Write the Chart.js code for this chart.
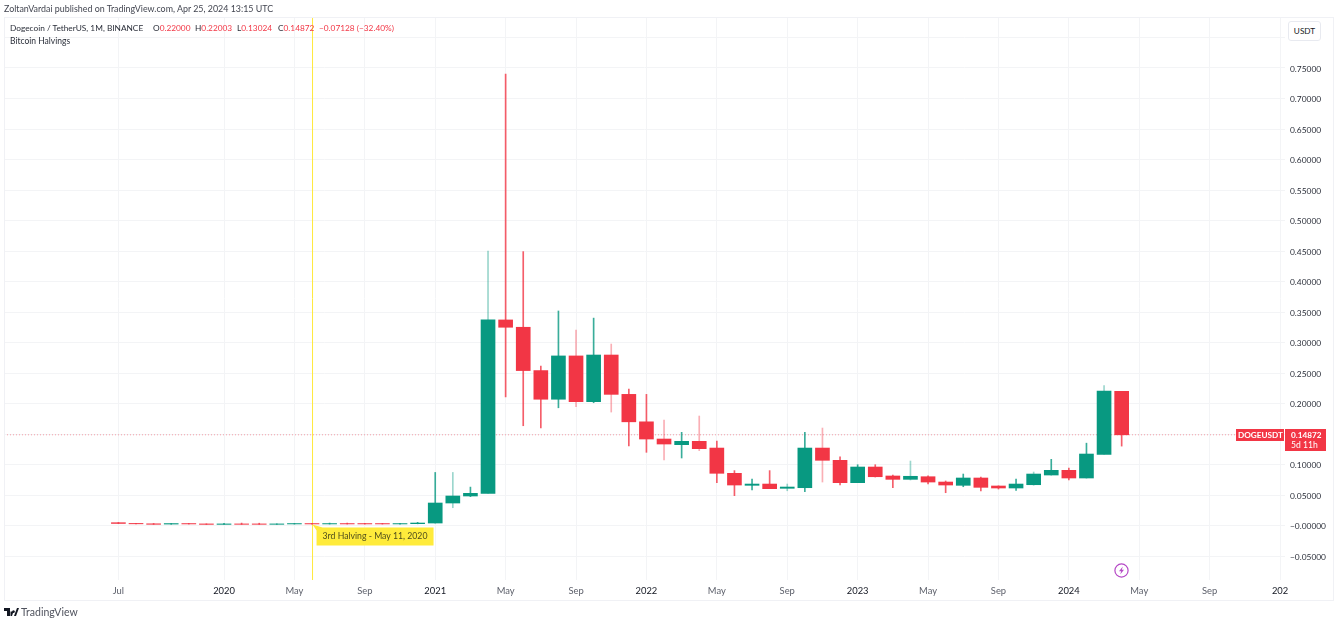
<!DOCTYPE html>
<html>
<head>
<meta charset="utf-8">
<title>DOGEUSDT</title>
<script src="https://cdn.jsdelivr.net/npm/chart.js@4"></script>
<style>
html, body { margin: 0; padding: 0; background: #fff; }
body { width: 1339px; height: 625px; position: relative; overflow: hidden; font-family: Lato, sans-serif; color: #131722; }
canvas { position: absolute; left: 0; top: 0; }
.txt { position: absolute; white-space: nowrap; line-height: 12px; }
.red { color: #f23645; }
#published { left: 4px; top: 3px; font-size: 8.9px; color: #434651; }
#legend { left: 10px; top: 22px; font-size: 8.3px; color: #2a2e39; }
#legend span { position: absolute; top: 0; }
#legend i { font-style: normal; color: #f23645; }
#study { left: 10px; top: 35px; font-size: 8.5px; color: #2a2e39; }
#unit { left: 1288px; top: 21px; width: 31px; height: 18px; border: 1px solid #e8eaf0; border-radius: 3px; font-size: 8.2px; line-height: 18px; text-align: center; background: #fff; }
#brand { left: 21px; top: 606px; font-size: 10.5px; color: #50535e; }
#logo { position: absolute; left: 4px; top: 608px; }
#bolt { position: absolute; left: 1114px; top: 563px; }
</style>
</head>
<body>
<canvas id="chart" width="1339" height="625"></canvas>
<div class="txt" id="published">ZoltanVardai published on TradingView.com, Apr 25, 2024 13:15 UTC</div>
<div class="txt" id="legend">Dogecoin / TetherUS, 1M, BINANCE<span style="left:143px">O<i>0.22000</i></span><span style="left:185px">H<i>0.22003</i></span><span style="left:227px">L<i>0.13024</i></span><span style="left:268px">C<i>0.14872</i></span><span class="red" style="left:309px">−0.07128 (−32.40%)</span></div>
<div class="txt" id="study">Bitcoin Halvings</div>
<div class="txt" id="unit">USDT</div>
<svg id="logo" width="15" height="9" viewBox="0 0 15 9"><path d="M0 0h6v8H3V3H0z M9.5 2.2a1.4 1.4 0 1 1-.01 0z M10 8l3-8h2l-3 8z M6.5 3.5h3L8 8H6.5z" fill="#131722"/></svg>
<div class="txt" id="brand">TradingView</div>
<svg id="bolt" width="15" height="15" viewBox="0 0 15 15"><circle cx="7.5" cy="7.5" r="6.6" fill="none" stroke="#b548c6" stroke-width="1.2"/><path d="M8.8 3.4 5 8.2h2.2L6.2 11.6 10 6.8H7.8z" fill="#b548c6"/></svg>
<script>
// monthly candles, Jul 2019 to Apr 2024
const months = ['2019-07','2019-08','2019-09','2019-10','2019-11','2019-12',
    '2020-01','2020-02','2020-03','2020-04','2020-05','2020-06','2020-07','2020-08','2020-09','2020-10','2020-11','2020-12',
    '2021-01','2021-02','2021-03','2021-04','2021-05','2021-06','2021-07','2021-08','2021-09','2021-10','2021-11','2021-12',
    '2022-01','2022-02','2022-03','2022-04','2022-05','2022-06','2022-07','2022-08','2022-09','2022-10','2022-11','2022-12',
    '2023-01','2023-02','2023-03','2023-04','2023-05','2023-06','2023-07','2023-08','2023-09','2023-10','2023-11','2023-12',
    '2024-01','2024-02','2024-03','2024-04'];
const opens = [0.0046,0.0034,0.0028,0.0024,0.0032,0.0026,
    0.0019,0.0026,0.0026,0.0020,0.0026,0.0032,0.0026,0.0032,0.0032,0.0032,0.0026,0.0030,
    0.0041,0.0369,0.0484,0.0528,0.3370,0.3250,0.2540,0.2070,0.2780,0.2030,0.2795,0.2150,
    0.1700,0.1418,0.1325,0.1380,0.1270,0.0856,0.0659,0.0680,0.0610,0.0620,0.1270,0.1069,
    0.0702,0.0959,0.0812,0.0757,0.0800,0.0713,0.0659,0.0779,0.0648,0.0615,0.0669,0.0828,
    0.0905,0.0779,0.1167,0.2200];
const highs = [0.0050,0.0037,0.0034,0.0034,0.0035,0.0028,
    0.0036,0.0040,0.0038,0.0028,0.0034,0.0036,0.0040,0.0040,0.0036,0.0035,0.0036,0.0052,
    0.0870,0.0870,0.0630,0.4500,0.7400,0.4490,0.2615,0.3517,0.3205,0.3400,0.2975,0.2238,
    0.2150,0.1730,0.1528,0.1795,0.1385,0.0900,0.0762,0.0900,0.0680,0.1528,0.1598,0.1128,
    0.0997,0.0997,0.0828,0.1057,0.0815,0.0730,0.0844,0.0795,0.0650,0.0762,0.0877,0.1085,
    0.0943,0.1350,0.2292,0.2200];
const lows = [0.0032,0.0026,0.0018,0.0020,0.0024,0.0017,
    0.0017,0.0018,0.0018,0.0018,0.0024,0.0024,0.0024,0.0024,0.0024,0.0024,0.0024,0.0028,
    0.0041,0.0292,0.0473,0.0528,0.2110,0.1636,0.1600,0.1930,0.1948,0.2013,0.1860,0.1303,
    0.1200,0.1074,0.1107,0.1227,0.0702,0.0489,0.0582,0.0604,0.0570,0.0555,0.0713,0.0664,
    0.0702,0.0795,0.0620,0.0746,0.0680,0.0538,0.0636,0.0566,0.0598,0.0577,0.0660,0.0828,
    0.0746,0.0779,0.1167,0.1302];
const closes = [0.0034,0.0028,0.0020,0.0032,0.0026,0.0019,
    0.0026,0.0020,0.0020,0.0026,0.0032,0.0026,0.0032,0.0026,0.0026,0.0026,0.0032,0.0041,
    0.0369,0.0484,0.0528,0.3370,0.3250,0.2540,0.2070,0.2780,0.2030,0.2795,0.2150,0.1700,
    0.1418,0.1336,0.1380,0.1260,0.0856,0.0664,0.0680,0.0604,0.0631,0.1270,0.1069,0.0702,
    0.0959,0.0800,0.0757,0.0807,0.0713,0.0664,0.0779,0.0626,0.0615,0.0680,0.0844,0.0905,
    0.0779,0.1172,0.2205,0.1487];

const xTickPositions = [0,6,10,14,18,22,26,30,34,38,42,46,50,54,58,62,66];
const xTickLabels = ['Jul','2020','May','Sep','2021','May','Sep','2022','May','Sep','2023','May','Sep','2024','May','Sep','202'];
const yTickValues = [-0.05,0,0.05,0.10,0.15,0.20,0.25,0.30,0.35,0.40,0.45,0.50,0.55,0.60,0.65,0.70,0.75,0.80];
const yTickLabels = ['−0.05000','−0.00000','0.05000','0.10000','0.15000','0.20000','0.25000','0.30000','0.35000','0.40000','0.45000','0.50000','0.55000','0.60000','0.65000','0.70000','0.75000',''];

const lastPrice = 0.14872;
const lastPriceText = '0.14872';
const countdownText = '5d 11h';
const symbolText = 'DOGEUSDT';
const halvingIndex = 11.03;
const halvingText = '3rd Halving - May 11, 2020';

const xMin = -6.5, xMax = 66.28;
const yMin = -0.0893, yMax = 0.8336;

const green = '#089981', red = '#f23645';
const candleColors = opens.map((o, i) => closes[i] >= o ? green : red);
// these wicks look washed out in the screenshot
const fadedWicks = [19,21,26,28,31,33,38,40,45,52,56];
const wickColors = opens.map((o, i) => {
    const alpha = fadedWicks.includes(i) ? 0.4 : 0.8;
    return closes[i] >= o ? `rgba(8,153,129,${alpha})` : `rgba(242,54,69,${alpha})`;
});

// price tag and halving note sit on top of the plot
const overlays = {
    id: 'overlays',
    afterDraw(chart) {
        const c = chart.ctx, y = chart.scales.y.getPixelForValue(lastPrice);
        const hx = chart.scales.x.getPixelForValue(halvingIndex);
        const hy = chart.scales.y.getPixelForValue(0);
        const a = chart.chartArea;
        c.save();

        // frame
        c.strokeStyle = '#f0f1f5';
        c.lineWidth = 1;
        c.strokeRect(4.5, 17.5, 1329, 583);

        // last price tag
        c.fillStyle = red;
        c.fillRect(a.right - 49, Math.round(y) - 6, 48, 12);
        c.fillRect(a.right, Math.round(y) - 6, 41, 22);
        c.fillStyle = '#fff';
        c.textBaseline = 'middle';
        c.textAlign = 'left';
        c.font = 'bold 8.2px Lato';
        c.fillText(symbolText, a.right - 47, Math.round(y));
        c.fillText(lastPriceText, a.right + 6, Math.round(y));
        c.font = '8.6px Lato';
        c.fillText(countdownText, a.right + 6, Math.round(y) + 10);

        // halving note
        c.fillStyle = '#ffeb3b';
        c.beginPath();
        c.moveTo(hx, hy - 1);
        c.lineTo(hx + 10, hy + 2);
        c.lineTo(hx + 121, hy + 2);
        c.lineTo(hx + 121, hy + 20);
        c.lineTo(hx + 4, hy + 20);
        c.lineTo(hx + 4, hy + 5);
        c.closePath();
        c.fill();
        c.fillStyle = '#4f4d1c';
        c.font = '8.7px Lato';
        c.fillText(halvingText, hx + 10, hy + 11);
        c.restore();
    }
};

new Chart(document.getElementById('chart'), {
    type: 'bar',
    data: {
        datasets: [
            {
                label: 'last price',
                type: 'line',
                data: [{ x: xMin, y: lastPrice }, { x: xMax - 2.8, y: lastPrice }],
                borderColor: 'rgba(242,54,69,0.45)',
                borderWidth: 1,
                borderDash: [1, 2],
                pointRadius: 0,
                order: 5
            },
            {
                label: 'halving',
                type: 'line',
                data: [{ x: halvingIndex, y: yMin }, { x: halvingIndex, y: yMax }],
                borderColor: '#ffe93b',
                borderWidth: 1,
                pointRadius: 0,
                order: 4
            },
            {
                label: 'wicks',
                data: months.map((m, i) => ({ x: i, y: [lows[i], highs[i]] })),
                backgroundColor: wickColors,
                barThickness: 1,
                grouped: false,
                order: 2
            },
            {
                label: 'bodies',
                data: months.map((m, i) => ({ x: i, y: [opens[i], closes[i]] })),
                backgroundColor: candleColors,
                barThickness: 14,
                grouped: false,
                order: 1
            }
        ]
    },
    options: {
        responsive: false,
        animation: false,
        layout: { padding: { left: 4, top: 17, right: 6, bottom: 25 } },
        plugins: { legend: { display: false }, tooltip: { enabled: false } },
        scales: {
            x: {
                type: 'linear',
                offset: false,
                min: xMin,
                max: xMax,
                afterBuildTicks: s => { s.ticks = xTickPositions.map(v => ({ value: v })); },
                afterFit: s => { s.height = 20; },
                border: { display: false },
                grid: { color: '#f3f4f6', lineWidth: 1, offset: false, drawTicks: false },
                ticks: {
                    autoSkip: false,
                    maxRotation: 0,
                    padding: 5,
                    color: c => /^\d/.test(xTickLabels[c.index]) ? '#131722' : '#5d606b',
                    font: { family: 'Lato', size: 9.4 },
                    callback: v => xTickLabels[xTickPositions.indexOf(v)]
                }
            },
            y: {
                position: 'right',
                min: yMin,
                max: yMax,
                afterBuildTicks: s => { s.ticks = yTickValues.map(v => ({ value: v })); },
                afterFit: s => { s.width = 48; },
                border: { display: false },
                grid: { color: '#f3f4f6', lineWidth: 1, drawTicks: false },
                ticks: {
                    autoSkip: false,
                    padding: 5,
                    labelOffset: 1,
                    color: '#2a2e39',
                    font: { family: 'Lato', size: 8.4 },
                    callback: v => yTickLabels[yTickValues.indexOf(v)]
                }
            }
        }
    },
    plugins: [overlays]
});
</script>
</body>
</html>
